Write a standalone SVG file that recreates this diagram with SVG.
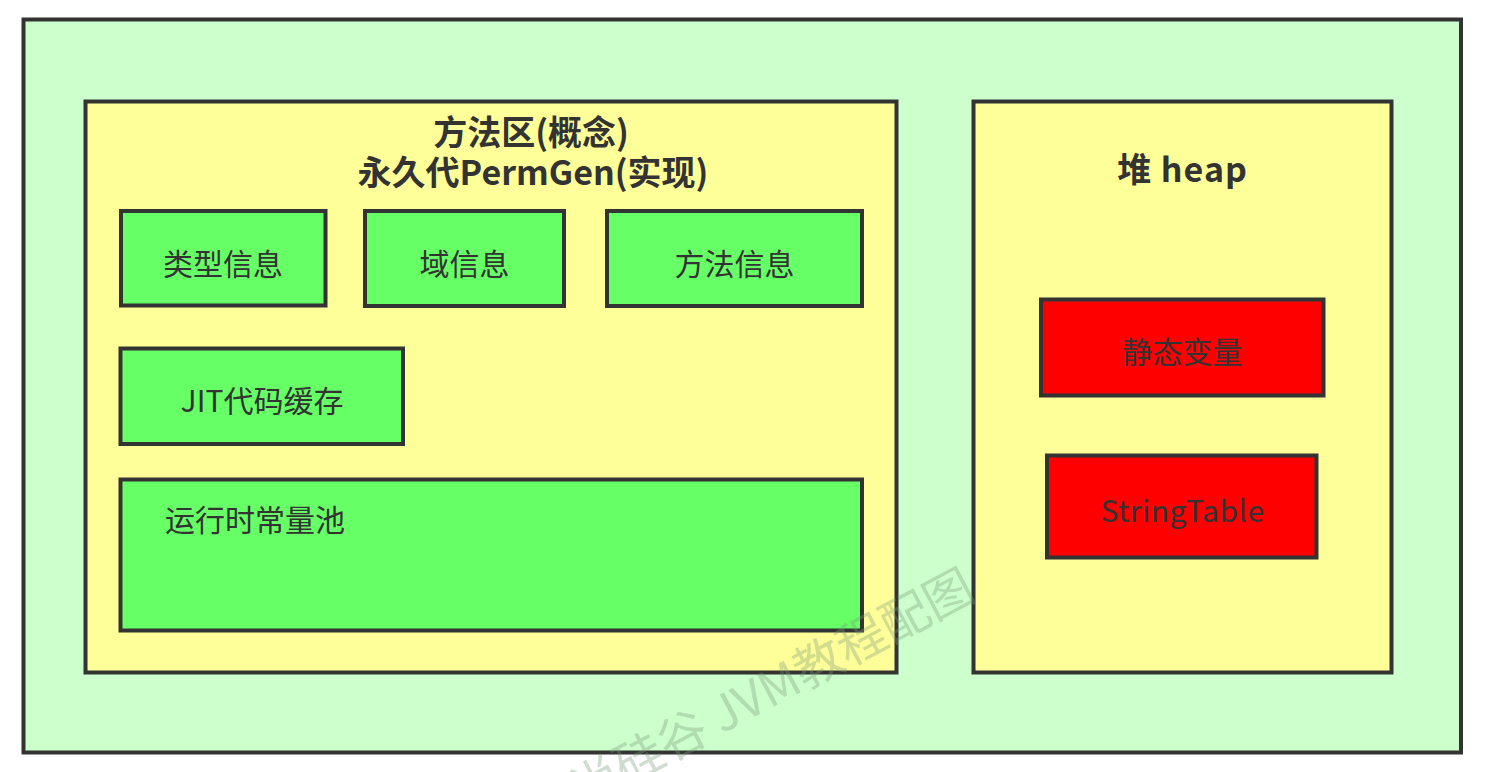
<svg xmlns="http://www.w3.org/2000/svg" width="1486" height="772" viewBox="0 0 1486 772">
<style>
.box{stroke:#333333;stroke-width:4}
.outer{fill:#CCFFCC}
.area{fill:#FFFF99}
.green{fill:#66FF66}
.red{fill:#FF0000}
.t{font-family:"Noto Sans CJK SC","Microsoft YaHei",sans-serif;font-size:30px;fill:#333333;text-anchor:middle}
.b{font-family:"Noto Sans CJK SC","Microsoft YaHei",sans-serif;font-size:34px;font-weight:bold;fill:#333333;text-anchor:middle}
.wm{font-family:"Noto Sans CJK SC","Microsoft YaHei",sans-serif;font-size:49px;fill:#7a9a7a;fill-opacity:0.35;text-anchor:end}
</style>
<rect width="1486" height="772" fill="#FFFFFF"/>
<g id="runtime">
<rect class="box outer" x="23.5" y="19.5" width="1437.5" height="733"/>
</g>
<g id="method-area">
<rect class="box area" x="85.5" y="101.5" width="811" height="571"/>
<text class="b" x="531" y="145">方法区(概念)</text>
<text class="b" x="533" y="185">永久代PermGen(实现)</text>
</g>
<g id="type-info">
<rect class="box green" x="121" y="211" width="204.5" height="94.5"/>
<text class="t" x="223" y="275">类型信息</text>
</g>
<g id="field-info">
<rect class="box green" x="365" y="211" width="199" height="95"/>
<text class="t" x="464.5" y="275">域信息</text>
</g>
<g id="method-info">
<rect class="box green" x="607" y="211" width="255" height="95"/>
<text class="t" x="734.5" y="275">方法信息</text>
</g>
<g id="jit-cache">
<rect class="box green" x="120.5" y="348.5" width="282.5" height="95.5"/>
<text class="t" x="262" y="412">JIT代码缓存</text>
</g>
<g id="runtime-constant-pool">
<rect class="box green" x="120.5" y="479.5" width="741.5" height="151"/>
<text class="t" x="165" y="531" style="text-anchor:start">运行时常量池</text>
</g>
<g id="heap">
<rect class="box area" x="973.5" y="101.5" width="418" height="571"/>
<text class="b" x="1182.5" y="182" letter-spacing="1">堆 heap</text>
</g>
<g id="static-vars">
<rect class="box red" x="1041" y="299.5" width="282.5" height="96"/>
<text class="t" x="1182.5" y="363">静态变量</text>
</g>
<g id="string-table">
<rect class="box red" x="1047" y="455.5" width="269.5" height="102"/>
<text class="t" x="1182.5" y="522" letter-spacing="0.5">StringTable</text>
</g>
<g id="connectors"></g>
<text class="wm" transform="translate(978,598) rotate(-28)">尚硅谷 JVM教程配图</text>
</svg>
